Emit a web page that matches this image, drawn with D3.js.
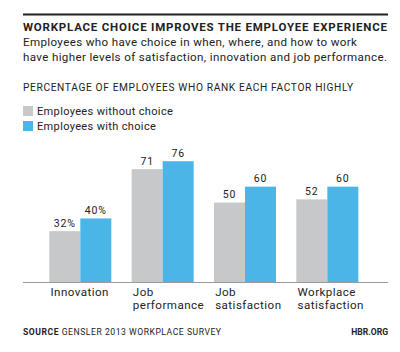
<!DOCTYPE html>
<html>
<head>
<meta charset="utf-8">
<script src="https://cdn.jsdelivr.net/npm/d3@7"></script>
<style>
  body { margin: 0; background: #fff; }
  text { font-family: Roboto, "Open Sans", sans-serif; fill: #222; }
</style>
</head>
<body>
<div id="chart"></div>
<script>
// data
const categories = ["Innovation", "Job performance", "Job satisfaction", "Workplace satisfaction"]
const catLines = [["Innovation"], ["Job", "performance"], ["Job", "satisfaction"], ["Workplace", "satisfaction"]]
const series = ["Employees without choice", "Employees with choice"]
const withoutChoice = [32, 71, 50, 52]
const withChoice = [40, 76, 60, 60]
const valueLabels = [["32%", "71", "50", "52"], ["40%", "76", "60", "60"]]
const colors = ["#c7c8ca", "#4cb5e7"]

const W = 400, H = 352
const left = 23, right = 388
const base = 282

const svg = d3.select("#chart").append("svg")
    .attr("width", W)
    .attr("height", H)

// top rule
svg.append("rect")
    .attr("x", left).attr("y", 13.5)
    .attr("width", right - left).attr("height", 2)
    .attr("fill", "#222")

// titles (stretched with letter spacing to the widths seen in the original)
svg.append("text")
    .attr("x", left).attr("y", 31)
    .attr("textLength", 364).attr("lengthAdjust", "spacing")
    .style("font-weight", 700)
    .style("font-size", "11.5px")
    .text("WORKPLACE CHOICE IMPROVES THE EMPLOYEE EXPERIENCE")

svg.append("text")
    .attr("x", left).attr("y", 46)
    .attr("textLength", 334).attr("lengthAdjust", "spacing")
    .style("font-size", "11.6px")
    .text("Employees who have choice in when, where, and how to work")

svg.append("text")
    .attr("x", left).attr("y", 61)
    .attr("textLength", 364).attr("lengthAdjust", "spacing")
    .style("font-size", "11.6px")
    .text("have higher levels of satisfaction, innovation and job performance.")

svg.append("text")
    .attr("x", left).attr("y", 91)
    .attr("textLength", 330).attr("lengthAdjust", "spacing")
    .style("font-size", "10.2px")
    .text("PERCENTAGE OF EMPLOYEES WHO RANK EACH FACTOR HIGHLY")

// legend
const legend = svg.append("g")
series.forEach((s, i) => {
    legend.append("rect")
        .attr("x", left).attr("y", 106 + i * 15)
        .attr("width", 10).attr("height", 10)
        .attr("fill", colors[i])
    legend.append("text")
        .attr("x", 37).attr("y", 115 + i * 15)
        .style("font-size", "11px")
        .style("letter-spacing", "0.35px")
        .text(s)
})

// scales
const x0 = d3.scaleBand()
    .domain(categories)
    .range([left, right])
    .paddingInner(0.247)
    .paddingOuter(0.34)
    .align(0.47)

const x1 = d3.scaleBand()
    .domain([0, 1])
    .range([0, x0.bandwidth()])

const y = d3.scaleLinear()
    .domain([0, 100])
    .range([base, base - 158.9])

const values = [withoutChoice, withChoice]

const groups = svg.append("g")
    .selectAll("g")
    .data(categories)
    .join("g")
    .attr("transform", d => "translate(" + x0(d) + ",0)")

groups.each(function (c, ci) {
    const g = d3.select(this)
    values.forEach((arr, si) => {
        g.append("rect")
            .attr("x", x1(si))
            .attr("y", y(arr[ci]))
            .attr("width", x1.bandwidth())
            .attr("height", y(0) - y(arr[ci]))
            .attr("fill", colors[si])
        g.append("text")
            .attr("x", x1(si) + x1.bandwidth() / 2)
            .attr("y", y(arr[ci]) - 4.5)
            .attr("text-anchor", "middle")
            .style("font-size", "10.5px")
            .style("letter-spacing", "0.8px")
            .text(valueLabels[si][ci])
    })
    catLines[ci].forEach((line, li) => {
        g.append("text")
            .attr("x", 1.2)
            .attr("y", 296 + li * 12.8)
            .style("font-size", "11.6px")
            .style("letter-spacing", "0.45px")
            .text(line)
    })
})

// baseline axis
svg.append("line")
    .attr("x1", left).attr("x2", right)
    .attr("y1", y(0) + 0.5).attr("y2", y(0) + 0.5)
    .attr("stroke", "#9a9a9a")
    .attr("stroke-width", 1.2)

// footer
const src = svg.append("text")
    .attr("x", left).attr("y", 335)
    .attr("textLength", 198).attr("lengthAdjust", "spacing")
    .style("font-size", "8.6px")
src.append("tspan").style("font-weight", 700).text("SOURCE ")
src.append("tspan").text("GENSLER 2013 WORKPLACE SURVEY")

svg.append("text")
    .attr("x", right).attr("y", 335)
    .attr("text-anchor", "end")
    .style("font-size", "8.6px")
    .style("font-weight", 700)
    .text("HBR.ORG")
</script>
</body>
</html>
